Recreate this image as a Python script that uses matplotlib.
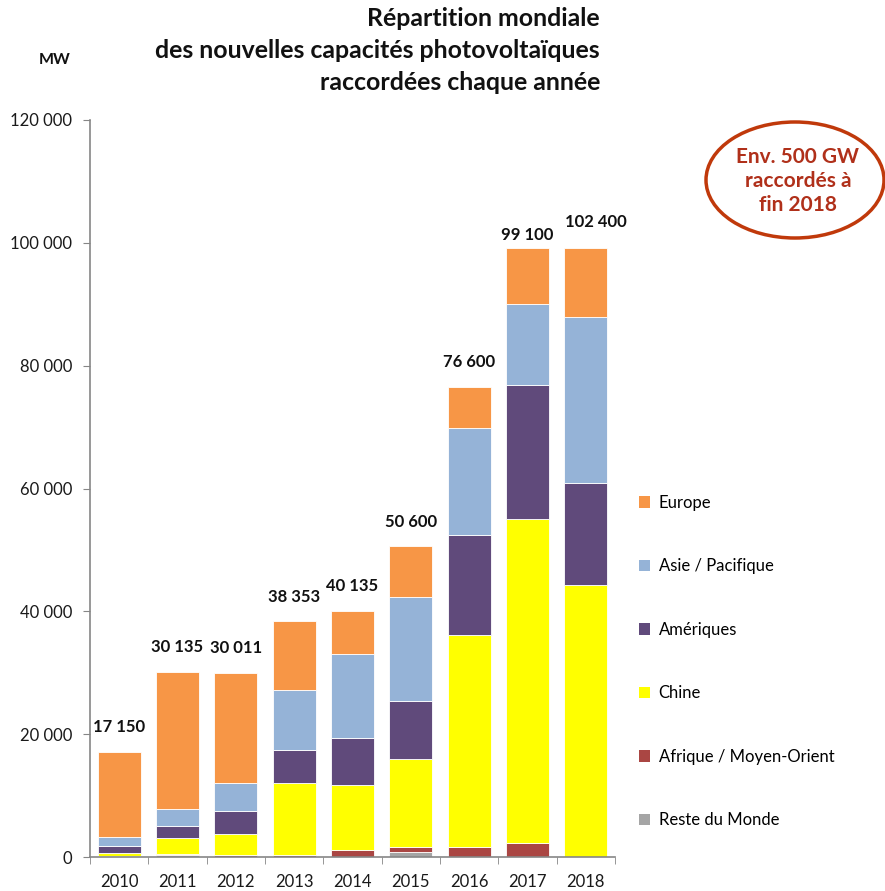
import numpy as np
import matplotlib.pyplot as plt
from matplotlib.patches import Ellipse, Patch
from matplotlib.ticker import FuncFormatter

# ---------------------------
# DONNÉES (MW)
# ---------------------------

annees = ["2010", "2011", "2012", "2013", "2014", "2015", "2016", "2017", "2018"]

reste_monde = [150, 350, 0, 0, 0, 800, 0, 0, 0]
afrique_mo = [0, 200, 250, 250, 1150, 880, 1700, 2200, 0]
chine = [500, 2500, 3550, 11850, 10620, 14280, 34450, 52830, 44290]
ameriques = [1190, 2060, 3690, 5370, 7610, 9390, 16280, 21820, 16610]
asie_pacifique = [1420, 2670, 4560, 9770, 13670, 16980, 17420, 13190, 27020]
europe = [13890, 22355, 17961, 11113, 7085, 8270, 6750, 9060, 11280]

totaux = ["17 150", "30 135", "30 011", "38 353", "40 135",
          "50 600", "76 600", "99 100", "102 400"]

series = [
    ("Reste du Monde", reste_monde, "#A5A5A5"),
    ("Afrique / Moyen-Orient", afrique_mo, "#AA4643"),
    ("Chine", chine, "#FFFF00"),
    ("Amériques", ameriques, "#604A7B"),
    ("Asie / Pacifique", asie_pacifique, "#95B3D7"),
    ("Europe", europe, "#F79646"),
]

# ---------------------------
# GRAPHIQUE
# ---------------------------

plt.rcParams["font.family"] = ["Lato", "DejaVu Sans"]

fig = plt.figure(figsize=(8.85, 8.91), dpi=100)
ax = fig.add_axes([90 / 885, 34 / 891, 525 / 885, 737 / 891])

x = np.arange(len(annees))
base = np.zeros(len(annees))
for nom, valeurs, couleur in series:
    ax.bar(x, valeurs, bottom=base, width=0.74, color=couleur,
           edgecolor="white", linewidth=0.6, label=nom)
    base += np.array(valeurs)

# étiquettes des totaux
decal_y = [12, 12, 12, 12, 12, 12, 12, 3.5, 12.5]
decal_x = [0, 0, 0, 0, 0, 0, 0, 0, 7]
for i, txt in enumerate(totaux):
    ax.annotate(txt, xy=(x[i], base[i]), xytext=(decal_x[i], decal_y[i]),
                textcoords="offset points", ha="center", va="bottom",
                fontsize=12, fontweight="bold", color="#111111")

ax.set_xlim(-0.5, len(annees) - 0.5)
ax.set_ylim(0, 120000)
ax.set_yticks(np.arange(0, 120001, 20000))
ax.yaxis.set_major_formatter(FuncFormatter(lambda v, p: f"{int(v):,}".replace(",", " ")))

ax.set_xticks(x)
ax.set_xticklabels(annees)
ax.set_xticks(np.arange(-0.5, len(annees)), minor=True)
ax.tick_params(axis="x", which="major", length=0, labelsize=12, pad=12, labelcolor="#1a1a1a")
ax.tick_params(axis="x", which="minor", length=5, color="#868686", direction="out")
ax.tick_params(axis="y", length=5, color="#868686", labelsize=12, pad=8, labelcolor="#1a1a1a")

for s in ["top", "right"]:
    ax.spines[s].set_visible(False)
for s in ["left", "bottom"]:
    ax.spines[s].set_color("#868686")
    ax.spines[s].set_linewidth(1.2)

# titre et unité
fig.text(600 / 885, 1 - 7 / 891,
         "Répartition mondiale\ndes nouvelles capacités photovoltaïques\nraccordées chaque année",
         ha="right", va="top", fontsize=17.9, fontweight="bold", color="#111111",
         linespacing=1.47)
fig.text(55 / 885, 1 - 60 / 891, "MW", ha="center", va="center",
         fontsize=11.5, fontweight="bold", color="#111111")

# ellipse
ell = Ellipse((795 / 885, 1 - 180 / 891), 178 / 885, 116 / 891,
              transform=fig.transFigure, fill=False, edgecolor="#C0390B",
              linewidth=2.5)
fig.patches.append(ell)
fig.text(798 / 885, 1 - 181 / 891, "Env. 500 GW\nraccordés à\nfin 2018",
         ha="center", va="center", fontsize=15, fontweight="bold",
         color="#B0301A", linespacing=1.22)

# légende
poignees = [Patch(facecolor=c, edgecolor="none", label=n) for n, v, c in series[::-1]]
fig.legend(handles=poignees, loc="upper left", bbox_to_anchor=(632 / 885, 1 - 488 / 891),
           frameon=False, fontsize=12, handlelength=0.7, handleheight=0.7,
           handletextpad=0.5, labelspacing=2.85, borderaxespad=0)

fig.savefig("out.png", dpi=100)
